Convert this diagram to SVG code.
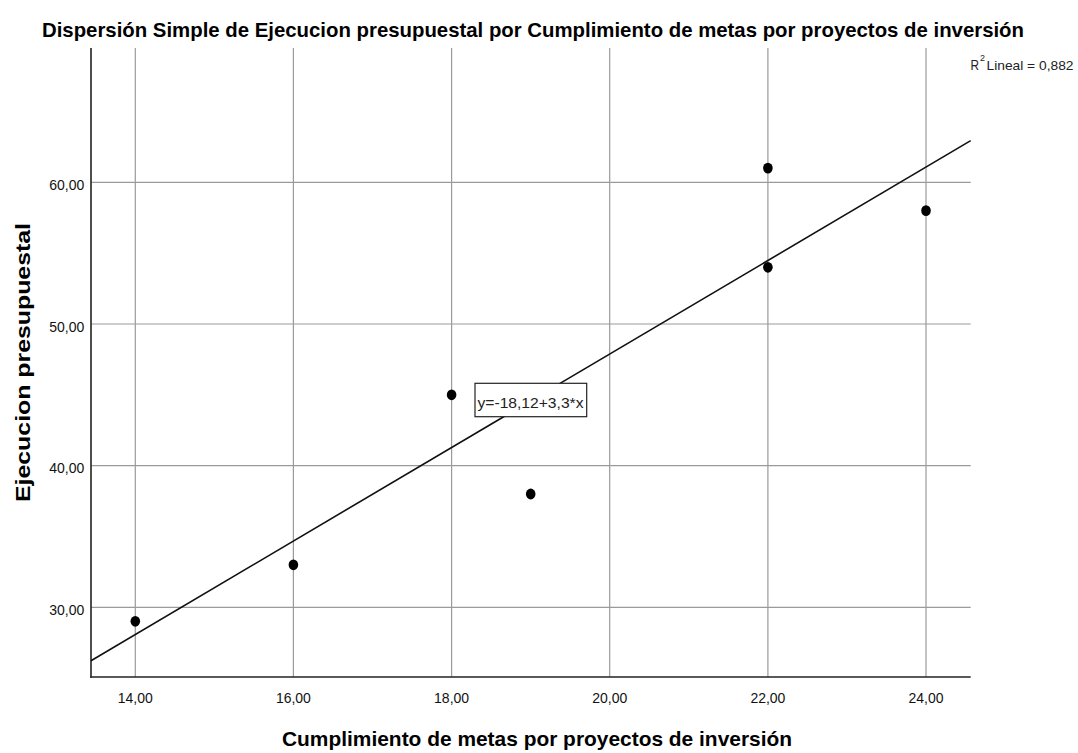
<svg xmlns="http://www.w3.org/2000/svg" width="1078" height="753" viewBox="0 0 1078 753">
<style>
.grid{stroke:#9a9a9a;stroke-width:1.2;fill:none}
.axis{stroke:#222;stroke-width:1.6;fill:none}
.fit{stroke:#111;stroke-width:1.6;fill:none}
.pt{fill:#000}
.tick{font-family:"Liberation Sans",Arial,sans-serif;font-size:15px;fill:#111}
.ttl{font-family:"Liberation Sans",Arial,sans-serif;font-weight:bold;fill:#000}
.small{font-family:"Liberation Sans",Arial,sans-serif;fill:#222}
</style>
<rect width="1078" height="753" fill="#fff"/>
<text id="title" class="ttl" x="533" y="36.7" font-size="21" text-anchor="middle" textLength="982" lengthAdjust="spacingAndGlyphs">Dispersión Simple de Ejecucion presupuestal por Cumplimiento de metas por proyectos de inversión</text>
<g id="gridlines">
<line class="grid" x1="135.3" y1="48" x2="135.3" y2="677"/>
<line class="grid" x1="293.4" y1="48" x2="293.4" y2="677"/>
<line class="grid" x1="451.6" y1="48" x2="451.6" y2="677"/>
<line class="grid" x1="609.7" y1="48" x2="609.7" y2="677"/>
<line class="grid" x1="767.9" y1="48" x2="767.9" y2="677"/>
<line class="grid" x1="926" y1="48" x2="926" y2="677"/>
<line class="grid" x1="91" y1="182.3" x2="970.7" y2="182.3"/>
<line class="grid" x1="91" y1="324" x2="970.7" y2="324"/>
<line class="grid" x1="91" y1="465.6" x2="970.7" y2="465.6"/>
<line class="grid" x1="91" y1="607.3" x2="970.7" y2="607.3"/>
</g>
<g id="axes">
<line class="axis" x1="91" y1="48" x2="91" y2="677.8"/>
<line class="axis" x1="90.2" y1="677" x2="970.7" y2="677"/>
</g>
<g id="y-ticks">
<text class="tick" x="84.3" y="190" text-anchor="end" textLength="35" lengthAdjust="spacingAndGlyphs">60,00</text>
<text class="tick" x="84.3" y="331.7" text-anchor="end" textLength="35" lengthAdjust="spacingAndGlyphs">50,00</text>
<text class="tick" x="84.3" y="473.3" text-anchor="end" textLength="35" lengthAdjust="spacingAndGlyphs">40,00</text>
<text class="tick" x="84.3" y="615" text-anchor="end" textLength="35" lengthAdjust="spacingAndGlyphs">30,00</text>
</g>
<g id="x-ticks">
<text class="tick" x="135.3" y="702.7" text-anchor="middle" textLength="35" lengthAdjust="spacingAndGlyphs">14,00</text>
<text class="tick" x="293.4" y="702.7" text-anchor="middle" textLength="35" lengthAdjust="spacingAndGlyphs">16,00</text>
<text class="tick" x="451.6" y="702.7" text-anchor="middle" textLength="35" lengthAdjust="spacingAndGlyphs">18,00</text>
<text class="tick" x="609.7" y="702.7" text-anchor="middle" textLength="35" lengthAdjust="spacingAndGlyphs">20,00</text>
<text class="tick" x="767.9" y="702.7" text-anchor="middle" textLength="35" lengthAdjust="spacingAndGlyphs">22,00</text>
<text class="tick" x="926" y="702.7" text-anchor="middle" textLength="35" lengthAdjust="spacingAndGlyphs">24,00</text>
</g>
<g id="fit-line">
<line class="fit" x1="91" y1="660.7" x2="970.7" y2="140.6"/>
</g>
<g id="points">
<ellipse class="pt" cx="135.3" cy="621.3" rx="4.8" ry="5.4"/>
<ellipse class="pt" cx="293.4" cy="564.8" rx="4.8" ry="5.4"/>
<ellipse class="pt" cx="451.6" cy="394.8" rx="4.8" ry="5.4"/>
<ellipse class="pt" cx="530.7" cy="494" rx="4.8" ry="5.4"/>
<ellipse class="pt" cx="767.9" cy="267.3" rx="4.8" ry="5.4"/>
<ellipse class="pt" cx="767.9" cy="168.1" rx="4.8" ry="5.4"/>
<ellipse class="pt" cx="926" cy="210.6" rx="4.8" ry="5.4"/>
</g>
<g id="equation">
<rect x="475" y="383.3" width="111.7" height="33.4" fill="#fff" stroke="#222" stroke-width="1.2"/>
<text class="small" x="477.5" y="408.3" font-size="14" textLength="106" lengthAdjust="spacingAndGlyphs">y=-18,12+3,3*x</text>
</g>
<g id="r2">
<text class="small" x="970.5" y="69.5" font-size="14" textLength="8.5" lengthAdjust="spacingAndGlyphs">R</text>
<text class="small" x="980" y="61" font-size="9">2</text>
<text class="small" x="986.5" y="69.5" font-size="13.5" textLength="87" lengthAdjust="spacingAndGlyphs">Lineal = 0,882</text>
</g>
<text id="x-title" class="ttl" x="537" y="746" font-size="21" text-anchor="middle" textLength="510" lengthAdjust="spacingAndGlyphs">Cumplimiento de metas por proyectos de inversión</text>
<text id="y-title" class="ttl" transform="translate(30,362.5) rotate(-90)" font-size="21" text-anchor="middle" textLength="279" lengthAdjust="spacingAndGlyphs">Ejecucion presupuestal</text>
</svg>
